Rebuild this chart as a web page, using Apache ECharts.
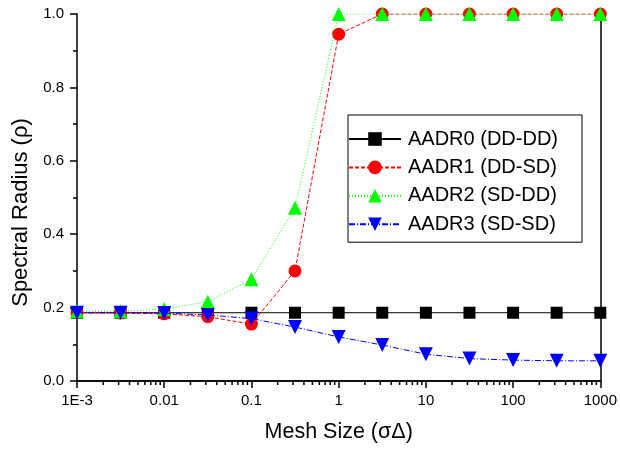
<!DOCTYPE html>
<html><head><meta charset="utf-8">
<script src="https://cdn.jsdelivr.net/npm/echarts@6/dist/echarts.min.js"></script>
<style>html,body{margin:0;padding:0;background:#fff}#c{width:620px;height:449px}</style>
</head><body><div id="c"></div>
<script>
const xValues = [0.001, 0.00316, 0.01, 0.0316, 0.1, 0.316, 1, 3.16, 10, 31.6, 100, 316, 1000];
const seriesNames = ['AADR0 (DD-DD)', 'AADR1 (DD-SD)', 'AADR2 (SD-DD)', 'AADR3 (SD-SD)'];
const aadr0 = [0.186, 0.186, 0.186, 0.186, 0.186, 0.186, 0.186, 0.186, 0.186, 0.186, 0.186, 0.186, 0.186];
const aadr1 = [0.186, 0.185, 0.183, 0.175, 0.155, 0.300, 0.945, 1.0, 1.0, 1.0, 1.0, 1.0, 1.0];
const aadr2 = [0.190, 0.190, 0.196, 0.216, 0.277, 0.472, 1.0, 1.0, 1.0, 1.0, 1.0, 1.0, 1.0];
const aadr3 = [0.186, 0.186, 0.185, 0.180, 0.170, 0.147, 0.120, 0.098, 0.073, 0.061, 0.057, 0.055, 0.055];
const xTickLabels = ['1E-3', '0.01', '0.1', '1', '10', '100', '1000'];
const decades = [0.001, 0.01, 0.1, 1, 10, 100];
const minorMultipliers = [2, 3, 4, 5, 6, 7, 8, 9];

const FONT = 'Liberation Sans, Arial, sans-serif';
const minorTicks = [];
decades.forEach(d => minorMultipliers.forEach(m => minorTicks.push([d * m, 0])));

function pairs(ys) { return xValues.map((x, i) => [x, ys[i]]); }

const chart = echarts.init(document.getElementById('c'), null, {renderer: 'canvas'});
const axisLineStyle = {color: '#000', width: 1.5};
chart.setOption({
  animation: false,
  backgroundColor: '#fff',
  grid: {left: 77, right: 18, top: 14, bottom: 68},
  legend: {
    left: 348, top: 115, orient: 'vertical',
    itemWidth: 52, itemHeight: 17, itemGap: 8.4,
    padding: [14, 24, 8, 0],
    borderColor: '#000', borderWidth: 1,
    textStyle: {fontSize: 20, fontFamily: FONT, color: '#000', padding: [0, 0, 0, 2]},
    data: seriesNames
  },
  xAxis: [{
    type: 'log', logBase: 10, min: 0.001, max: 1000, splitNumber: 6,
    name: 'Mesh Size (σΔ)', nameLocation: 'middle', nameGap: 40,
    nameTextStyle: {fontSize: 21.5, fontFamily: FONT, color: '#000'},
    axisLine: {lineStyle: axisLineStyle},
    axisTick: {show: true, length: 7, inside: false, lineStyle: {color: '#000', width: 1.5}},
    axisLabel: {fontSize: 15, fontFamily: FONT, color: '#000', margin: 12,
      formatter: v => xTickLabels[Math.round(Math.log10(v)) + 3]},
    splitLine: {show: false}
  }, {
    type: 'log', logBase: 10, min: 0.001, max: 1000, position: 'top',
    axisLine: {show: true, lineStyle: axisLineStyle},
    axisTick: {show: false}, axisLabel: {show: false}, splitLine: {show: false}
  }],
  yAxis: [{
    type: 'value', min: 0, max: 1, interval: 0.2,
    name: 'Spectral Radius (ρ)', nameLocation: 'middle', nameGap: 45,
    nameTextStyle: {fontSize: 22, fontFamily: FONT, color: '#000', padding: [0, 30, 0, 0]},
    axisLine: {show: true, lineStyle: axisLineStyle},
    axisTick: {show: true, length: 7, lineStyle: {color: '#000', width: 1.5}},
    minorTick: {show: true, splitNumber: 2, length: 4, lineStyle: {color: '#000', width: 1.5}},
    axisLabel: {fontSize: 15, fontFamily: FONT, color: '#000', margin: 13, formatter: v => v.toFixed(1)},
    splitLine: {show: false}
  }, {
    type: 'value', min: 0, max: 1, position: 'right',
    axisLine: {show: true, lineStyle: axisLineStyle},
    axisTick: {show: false}, axisLabel: {show: false}, splitLine: {show: false}
  }],
  series: [
    {name: seriesNames[0], type: 'line', data: pairs(aadr0), symbol: 'rect', symbolSize: 12,
      itemStyle: {color: '#000'}, lineStyle: {color: '#000', width: 1, type: 'solid'}, z: 3},
    {name: seriesNames[1], type: 'line', data: pairs(aadr1), symbol: 'circle', symbolSize: 13,
      itemStyle: {color: '#ff0000'}, lineStyle: {color: '#ff0000', width: 1, type: [4, 2]}, z: 4},
    {name: seriesNames[2], type: 'line', data: pairs(aadr2), symbol: 'triangle', symbolSize: 14,
      itemStyle: {color: '#00ff00'}, lineStyle: {color: '#00ff00', width: 1, type: [1, 2]}, z: 5},
    {name: seriesNames[3], type: 'line', data: pairs(aadr3), symbol: 'triangle', symbolRotate: 180, symbolSize: 14,
      itemStyle: {color: '#0000ff'}, lineStyle: {color: '#0000ff', width: 1, type: [6, 2, 1, 2]}, z: 6},
    {name: 'minorTicks', type: 'custom', data: minorTicks, silent: true, clip: false,
      encode: {x: 0, y: 1},
      renderItem: function (params, api) {
        const p = api.coord([api.value(0), 0]);
        return {type: 'line', shape: {x1: p[0], y1: p[1], x2: p[0], y2: p[1] + 4},
          style: {stroke: '#000', lineWidth: 1.5}};
      }}
  ]
});
</script></body></html>
